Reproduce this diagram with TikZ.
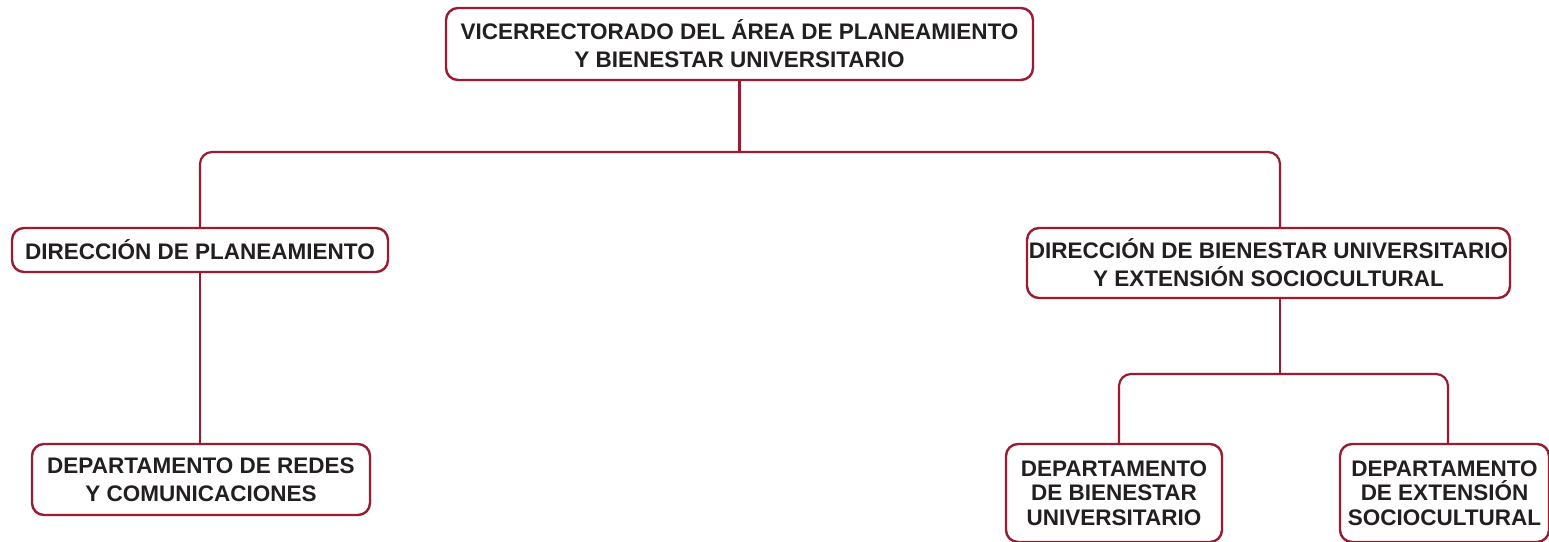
\documentclass[tikz,border=0pt]{standalone}
\usepackage{fontspec}
\setmainfont{Liberation Sans}
\usepackage{tikz}
\definecolor{darkred}{RGB}{155,27,48}
\definecolor{darktext}{RGB}{35,31,32}

\begin{document}
\begin{tikzpicture}[x=1pt,y=-1pt,
    unit/.style={draw=darkred,line width=2.4pt,rounded corners=12pt,fill=white,
      align=center,inner sep=0pt,text=darktext,
      font=\fontsize{22.5}{28}\selectfont\bfseries},
    small unit/.style={unit,font=\fontsize{22.5}{24.5}\selectfont\bfseries,
      minimum height=98pt},
    link/.style={darkred,line width=2.2pt,rounded corners=12pt}]
        \clip (0,0) rectangle (1549,541);

        % vicerrectorado
        \node[unit,minimum width=587pt,minimum height=72pt] (vice) at (739.5,44)
            {VICERRECTORADO DEL ÁREA DE PLANEAMIENTO\\Y BIENESTAR UNIVERSITARIO};

        % direcciones
        \node[unit,minimum width=376pt,minimum height=44pt] (dplan) at (200,250)
            {DIRECCIÓN DE PLANEAMIENTO};
        \node[unit,minimum width=483pt,minimum height=70pt] (dbien) at (1268.5,263)
            {DIRECCIÓN DE BIENESTAR UNIVERSITARIO\\Y EXTENSIÓN SOCIOCULTURAL};

        % departamentos
        \node[unit,minimum width=338pt,minimum height=71pt] (dredes) at (201,479.5)
            {DEPARTAMENTO DE REDES\\Y COMUNICACIONES};
        \node[small unit,minimum width=216pt] (dptob) at (1114,493)
            {DEPARTAMENTO\\DE BIENESTAR\\UNIVERSITARIO};
        \node[small unit,minimum width=209pt] (dptoe) at (1444.5,493)
            {DEPARTAMENTO\\DE EXTENSIÓN\\SOCIOCULTURAL};

        % lineas
        \coordinate (j1) at (740,152);
        \coordinate (j2) at (1280,152);
        \coordinate (j3) at (1280,374);
        \coordinate (j4) at (1119,374);
        \coordinate (j5) at (1448,374);
        \draw[link] (vice.south) -- (vice.south |- j1);
        \draw[link] (dplan.north) |- (j2) -- (j2 |- dbien.north);
        \draw[link] (dplan.south) -- (dplan.south |- dredes.north);
        \draw[link] (j2 |- dbien.south) -- (j3);
        \draw[link] (j4 |- dptob.north) -- (j4) -- (j5) -- (j5 |- dptoe.north);
\end{tikzpicture}
\end{document}
